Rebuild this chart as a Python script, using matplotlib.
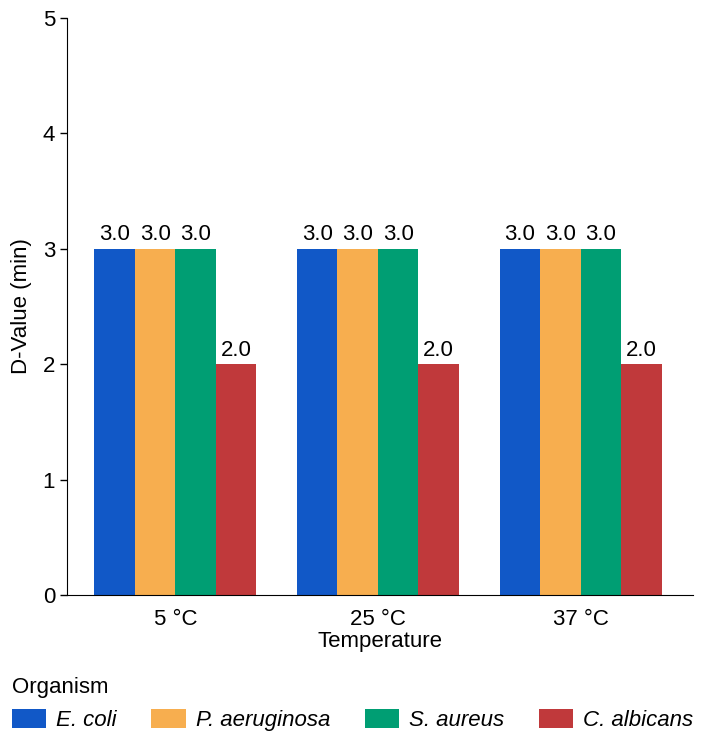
import matplotlib
matplotlib.use("Agg")
import matplotlib.pyplot as plt
import numpy as np
from matplotlib.patches import Patch

plt.rcParams['font.family'] = ['Liberation Sans', 'DejaVu Sans']

temperatures = ["5 °C", "25 °C", "37 °C"]
organisms = ["E. coli", "P. aeruginosa", "S. aureus", "C. albicans"]
d_values = {
    "E. coli": [3.0, 3.0, 3.0],
    "P. aeruginosa": [3.0, 3.0, 3.0],
    "S. aureus": [3.0, 3.0, 3.0],
    "C. albicans": [2.0, 2.0, 2.0],
}
colors = ["#1158c7", "#f7ae4f", "#009e73", "#c0393b"]

FS = 16

fig = plt.figure(figsize=(7.06, 7.43), dpi=100)
ax = fig.add_axes([67/706, 1-595/743, (693-67)/706, (595-18)/743])

x = np.arange(len(temperatures))
w = 0.2
for i, org in enumerate(organisms):
    pos = x + (i - 1.5) * w
    bars = ax.bar(pos, d_values[org], width=w, color=colors[i], label=org)
    for b, v in zip(bars, d_values[org]):
        ax.text(b.get_x() + b.get_width()/2, v + 0.03, f"{v:.1f}",
                ha='center', va='bottom', fontsize=FS)

ax.set_xlim(-0.535, 2.555)
ax.set_ylim(0, 5)
ax.set_yticks([0, 1, 2, 3, 4, 5])
ax.set_xticks(x)
ax.set_xticklabels(temperatures)
ax.tick_params(axis='both', labelsize=FS, length=5, width=1)
ax.tick_params(axis='x', length=0, pad=10)
ax.spines['top'].set_visible(False)
ax.spines['right'].set_visible(False)
ax.set_xlabel("Temperature", fontsize=FS, labelpad=1)
ax.set_ylabel("D-Value (min)", fontsize=FS, labelpad=8)

handles = [Patch(facecolor=c, label=o) for c, o in zip(colors, organisms)]
leg = fig.legend(handles=handles, loc='lower left', bbox_to_anchor=(-0.0085, -0.008),
                 ncol=4, frameon=False, title="Organism", fontsize=FS,
                 title_fontsize=FS, handlelength=1.55, handleheight=0.9,
                 columnspacing=1.55, handletextpad=0.45, alignment='left',
                 borderpad=0.3, labelspacing=0.5)
for t in leg.get_texts():
    t.set_fontstyle('italic')

fig.savefig("out.png", dpi=100)
